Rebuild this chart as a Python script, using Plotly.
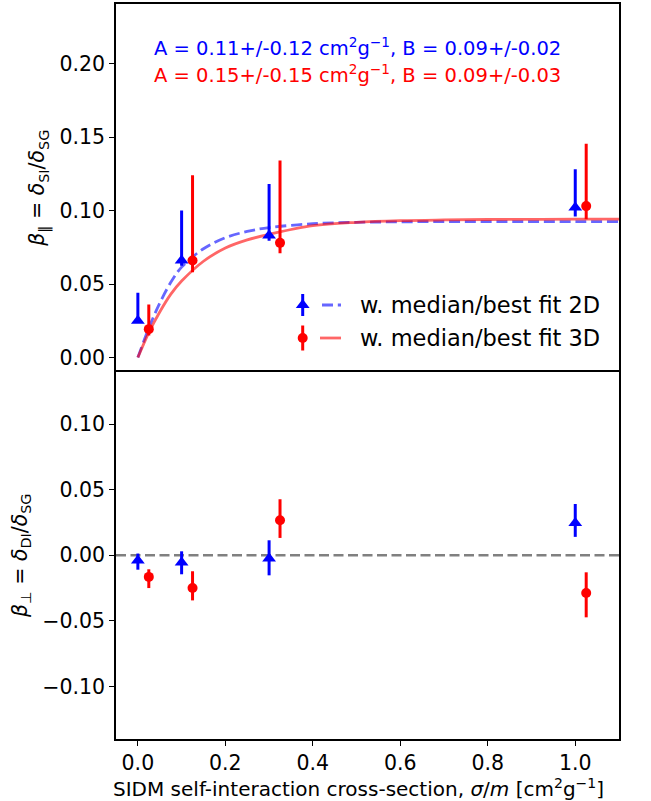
import plotly.graph_objects as go

# ---------------- data ----------------
x_2d = [0.0, 0.1, 0.3, 1.0]
x_3d = [0.025, 0.125, 0.325, 1.025]

# top panel: beta_parallel (value, upper end, lower end)
bpar_2d = [0.025, 0.066, 0.083, 0.102]
bpar_2d_hi = [0.044, 0.100, 0.118, 0.128]
bpar_2d_lo = [0.024, 0.0625, 0.0795, 0.096]
bpar_3d = [0.0193, 0.066, 0.078, 0.103]
bpar_3d_hi = [0.036, 0.124, 0.134, 0.1455]
bpar_3d_lo = [0.015, 0.058, 0.071, 0.094]

# bottom panel: beta_perp
bperp_2d = [-0.004, -0.0055, -0.0025, 0.0245]
bperp_2d_hi = [0.0013, 0.003, 0.0114, 0.039]
bperp_2d_lo = [-0.011, -0.0145, -0.0153, 0.014]
bperp_3d = [-0.0165, -0.025, 0.0267, -0.0288]
bperp_3d_hi = [-0.0107, -0.0122, 0.0427, -0.013]
bperp_3d_lo = [-0.025, -0.0344, 0.0132, -0.0473]

# best-fit curves
fit_x = [0.0, 0.025, 0.05, 0.075, 0.1, 0.15, 0.2, 0.25, 0.3, 0.4, 0.5, 0.6, 0.7, 0.8, 0.9, 1.0, 1.1]
fit_2d = [0.0, 0.020, 0.037, 0.051, 0.0615, 0.074, 0.0815, 0.0858, 0.0884, 0.0910, 0.0920, 0.0923, 0.0925, 0.0925, 0.0925, 0.0925, 0.0925]
fit_3d = [0.0, 0.0170, 0.031, 0.043, 0.052, 0.0655, 0.0745, 0.0800, 0.0838, 0.0897, 0.0920, 0.0931, 0.0936, 0.0939, 0.0940, 0.0941, 0.0941]

x_ticks = [0.0, 0.2, 0.4, 0.6, 0.8, 1.0]
y1_ticks = [0.0, 0.05, 0.10, 0.15, 0.20]
y2_ticks = [-0.10, -0.05, 0.0, 0.05, 0.10]

text_2d = "A = 0.11+/-0.12 cm<sup>2</sup>g<sup>\u22121</sup>, B = 0.09+/-0.02"
text_3d = "A = 0.15+/-0.15 cm<sup>2</sup>g<sup>\u22121</sup>, B = 0.09+/-0.03"
leg_2d = "w. median/best fit 2D"
leg_3d = "w. median/best fit 3D"
x_title = "SIDM self-interaction cross-section, <i>σ</i>/<i>m</i> [cm<sup>2</sup>g<sup>\u22121</sup>]"

BLUE = "#0000ff"
RED = "#ff0000"
FONT = "DejaVu Sans"
FS_TICK = 20.5
FS_LABEL = 20.5
FS_XLABEL = 20
FS_LEG = 22.5
FS_ANN = 19.5


def fmt(v, nd):
    s = f"{v:.{nd}f}"
    return s.replace("-", "\u2212")


def err(vals, hi, lo):
    return ([h - v for v, h in zip(vals, hi)], [v - l for v, l in zip(vals, lo)])


fig = go.Figure()

# ---- fit curves (top) ----
fig.add_trace(go.Scatter(x=fit_x, y=fit_2d, mode="lines", line=dict(color="rgba(0,0,255,0.6)", width=2.8, dash="11px,4.8px", shape="spline"),
                         xaxis="x2", yaxis="y", showlegend=False, hoverinfo="skip"))
fig.add_trace(go.Scatter(x=fit_x, y=fit_3d, mode="lines", line=dict(color="rgba(255,0,0,0.6)", width=2.8, shape="spline"),
                         xaxis="x2", yaxis="y", showlegend=False, hoverinfo="skip"))

TRI = dict(symbol="triangle-up", size=12, color=BLUE)
CIR = dict(symbol="circle", size=10, color=RED)

# ---- top points ----
up, dn = err(bpar_2d, bpar_2d_hi, bpar_2d_lo)
fig.add_trace(go.Scatter(x=x_2d, y=bpar_2d, mode="markers", marker=TRI,
                         error_y=dict(type="data", array=up, arrayminus=dn, color=BLUE, thickness=3, width=0),
                         xaxis="x2", yaxis="y", showlegend=False))
up, dn = err(bpar_3d, bpar_3d_hi, bpar_3d_lo)
fig.add_trace(go.Scatter(x=x_3d, y=bpar_3d, mode="markers", marker=CIR,
                         error_y=dict(type="data", array=up, arrayminus=dn, color=RED, thickness=3, width=0),
                         xaxis="x2", yaxis="y", showlegend=False))

# ---- bottom: zero line ----
fig.add_trace(go.Scatter(x=[-0.05, 1.1], y=[0, 0], mode="lines", line=dict(color="grey", width=2.5, dash="10px,4.5px"),
                         xaxis="x", yaxis="y2", showlegend=False, hoverinfo="skip"))
up, dn = err(bperp_2d, bperp_2d_hi, bperp_2d_lo)
fig.add_trace(go.Scatter(x=x_2d, y=bperp_2d, mode="markers", marker=TRI,
                         error_y=dict(type="data", array=up, arrayminus=dn, color=BLUE, thickness=3, width=0),
                         xaxis="x", yaxis="y2", showlegend=False))
up, dn = err(bperp_3d, bperp_3d_hi, bperp_3d_lo)
fig.add_trace(go.Scatter(x=x_3d, y=bperp_3d, mode="markers", marker=CIR,
                         error_y=dict(type="data", array=up, arrayminus=dn, color=RED, thickness=3, width=0),
                         xaxis="x", yaxis="y2", showlegend=False))

# ---- manual legend on an overlay pixel axis (x3/y3) ----
fig.add_trace(go.Scatter(x=[302.7], y=[305], mode="markers", marker=TRI,
                         error_y=dict(type="data", array=[11], arrayminus=[11], color=BLUE, thickness=3, width=0),
                         xaxis="x3", yaxis="y3", showlegend=False, hoverinfo="skip"))
fig.add_trace(go.Scatter(x=[322, 341], y=[305, 305], mode="lines", line=dict(color="rgba(0,0,255,0.6)", width=2.8, dash="11px,4.8px"),
                         xaxis="x3", yaxis="y3", showlegend=False, hoverinfo="skip"))
fig.add_trace(go.Scatter(x=[302.7], y=[338], mode="markers", marker=CIR,
                         error_y=dict(type="data", array=[12.5], arrayminus=[12.5], color=RED, thickness=3, width=0),
                         xaxis="x3", yaxis="y3", showlegend=False, hoverinfo="skip"))
fig.add_trace(go.Scatter(x=[320, 341], y=[338, 338], mode="lines", line=dict(color="rgba(255,0,0,0.6)", width=2.8),
                         xaxis="x3", yaxis="y3", showlegend=False, hoverinfo="skip"))

axis_common = dict(showline=True, linecolor="black", linewidth=1.6, showgrid=False, zeroline=False,
                   ticklen=5, tickwidth=1.2, tickcolor="black",
                   tickfont=dict(family=FONT, size=FS_TICK, color="black"))

fig.update_layout(
    width=651, height=801,
    margin=dict(l=116, r=32, t=4, b=62),
    plot_bgcolor="rgba(0,0,0,0)", paper_bgcolor="white",
    font=dict(family=FONT, size=FS_TICK, color="black"),
    xaxis=dict(domain=[0, 1], anchor="y2", range=[-0.05, 1.1], tickvals=x_ticks, ticktext=[fmt(v, 1) for v in x_ticks],
               ticks="outside", mirror=True, **axis_common),
    xaxis2=dict(domain=[0, 1], anchor="y", side="top", matches="x", range=[-0.05, 1.1], showticklabels=False, ticks="",
                mirror=False, **axis_common),
    yaxis=dict(domain=[0.5, 1], anchor="x2", range=[-0.0095, 0.2405], tickvals=y1_ticks, ticktext=[fmt(v, 2) for v in y1_ticks],
               ticks="outside", mirror=True,
               title=dict(text="<i>β</i><sub>‖</sub> = <i>δ</i><sub>SI</sub>/<i>δ</i><sub>SG</sub>", font=dict(family=FONT, size=FS_LABEL), standoff=9),
               **axis_common),
    yaxis2=dict(domain=[0, 0.5], anchor="x", range=[-0.14, 0.14], tickvals=y2_ticks, ticktext=[fmt(v, 2) for v in y2_ticks],
                ticks="outside", mirror=True,
                title=dict(text="<i>β</i><sub>⊥</sub> = <i>δ</i><sub>DI</sub>/<i>δ</i><sub>SG</sub>", font=dict(family=FONT, size=FS_LABEL), standoff=9),
                **axis_common),
    xaxis3=dict(domain=[0, 1], anchor="y3", range=[116, 619], visible=False, fixedrange=True),
    yaxis3=dict(domain=[0, 1], anchor="x3", range=[739, 4], visible=False, fixedrange=True),
    annotations=[
        dict(x=152, y=47, xref="x3", yref="y3", text=text_2d, showarrow=False, xanchor="left", yanchor="middle",
             font=dict(family=FONT, size=FS_ANN, color=BLUE)),
        dict(x=152, y=74, xref="x3", yref="y3", text=text_3d, showarrow=False, xanchor="left", yanchor="middle",
             font=dict(family=FONT, size=FS_ANN, color=RED)),
        dict(x=358, y=305, xref="x3", yref="y3", text=leg_2d, showarrow=False, xanchor="left", yanchor="middle",
             font=dict(family=FONT, size=FS_LEG, color="black")),
        dict(x=358, y=338, xref="x3", yref="y3", text=leg_3d, showarrow=False, xanchor="left", yanchor="middle",
             font=dict(family=FONT, size=FS_LEG, color="black")),
        dict(x=(358 - 116) / 503, y=(739 - 788) / 735, xref="paper", yref="paper", text=x_title, showarrow=False,
             xanchor="center", yanchor="middle", font=dict(family=FONT, size=FS_XLABEL, color="black")),
    ],
)

fig.write_html("out.html")
